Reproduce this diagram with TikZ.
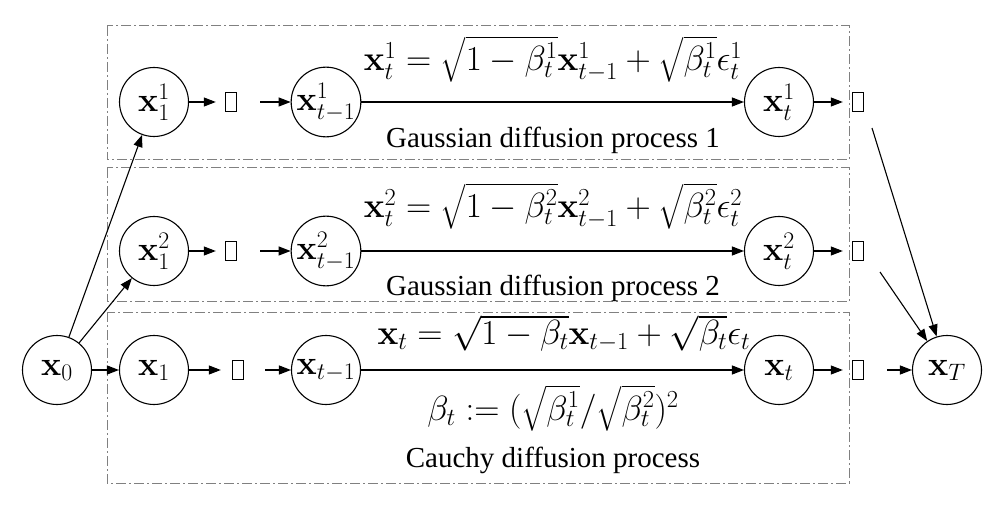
\RequirePackage{fix-cm}
\documentclass[tikz,border=0pt]{standalone}
\usepackage{amsmath}
\usepackage[no-math]{fontspec}
\setmainfont{Liberation Serif}
\usetikzlibrary{arrows.meta,calc}
\begin{document}
\begin{tikzpicture}[x=1pt,y=-1pt,
 state/.style={circle,draw,line width=1.1pt,minimum size=69pt,inner sep=0pt,font=\fontsize{34}{40}\selectfont},
 ghost/.style={minimum width=44pt,minimum height=20pt,inner sep=0pt},
 tofu/.style={draw,line width=0.9pt,minimum width=11pt,minimum height=19pt,inner sep=0pt},
 arr/.style={-{Triangle[length=12pt,width=9pt]},line width=1.1pt},
 proc/.style={draw=gray,line width=1pt,dash pattern=on 10pt off 3pt on 2pt off 3pt},
 eq/.style={anchor=base,font=\fontsize{35}{40}\selectfont},
 lab/.style={anchor=base,font=\fontsize{29}{34}\selectfont}]
\useasboundingbox (0,0) rectangle (1001,521);
% process boxes
\draw[proc] (107,26) rectangle (849,160);
\draw[proc] (107,168) rectangle (849,302);
\draw[proc] (107,312) rectangle (849,483);
% row 1
\node[state] (a1) at (154,102) {$\mathbf{x}_1^1$};
\node[ghost] (g1) at (238,102) {};
\node[tofu] at ($(g1.west)+(15,0)$) {};
\node[state] (m1) at (326,102) {$\mathbf{x}_{t-1}^1$};
\node[state] (t1) at (779,102) {$\mathbf{x}_t^1$};
\node[ghost] (h1) at (865,102) {};
\node[tofu] at ($(h1.west)+(15,0)$) {};
% row 2
\node[state] (a2) at (154,251) {$\mathbf{x}_1^2$};
\node[ghost] (g2) at (238,251) {};
\node[tofu] at ($(g2.west)+(15,0)$) {};
\node[state] (m2) at (326,251) {$\mathbf{x}_{t-1}^2$};
\node[state] (t2) at (779,251) {$\mathbf{x}_t^2$};
\node[ghost] (h2) at (865,251) {};
\node[tofu] at ($(h2.west)+(15,0)$) {};
% row 3
\node[state] (x0) at (57,370) {$\mathbf{x}_0$};
\node[state] (a3) at (154,370) {$\mathbf{x}_1$};
\node[ghost] (g3) at (243,370) {};
\node[tofu] at ($(g3.west)+(17,0)$) {};
\node[state] (m3) at (326,370) {$\mathbf{x}_{t-1}$};
\node[state] (t3) at (779,370) {$\mathbf{x}_t$};
\node[ghost] (h3) at (865,370) {};
\node[tofu] at ($(h3.west)+(15,0)$) {};
\node[state] (xT) at (947,370) {$\mathbf{x}_T$};
\coordinate (c1) at (872,128);
\coordinate (c2) at (880,272);
% connectors
\foreach \r in {1,2,3}{
  \draw[arr] (a\r) -- (g\r);
  \draw[arr] (g\r) -- (m\r);
  \draw[arr] (m\r) -- (t\r);
  \draw[arr] (t\r) -- (h\r);
}
\draw[arr] (x0) -- (a1);
\draw[arr] (x0) -- (a2);
\draw[arr] (x0) -- (a3);
\draw[arr] (h3) -- (xT);
\draw[arr] (c1) -- (xT);
\draw[arr] (c2) -- (xT);
% labels
\node[eq] (e1) at (553,71) {$\mathbf{x}_t^1=\sqrt{1-\beta_t^1}\mathbf{x}_{t-1}^1+\sqrt{\beta_t^1}\epsilon_t^1$};
\node[lab] (l1) at (553,148) {Gaussian diffusion process 1};
\node[eq] (e2) at (553,218) {$\mathbf{x}_t^2=\sqrt{1-\beta_t^2}\mathbf{x}_{t-1}^2+\sqrt{\beta_t^2}\epsilon_t^2$};
\node[lab] (l2) at (553,296) {Gaussian diffusion process 2};
\node[eq] (e3) at (564,344) {$\mathbf{x}_t=\sqrt{1-\beta_t}\mathbf{x}_{t-1}+\sqrt{\beta_t}\epsilon_t$};
\node[eq] (e4) at (553,420) {$\beta_t:=(\sqrt{\beta_t^1}/\sqrt{\beta_t^2})^2$};
\node[lab] (l3) at (553,467) {Cauchy diffusion process};
\end{tikzpicture}
\end{document}
